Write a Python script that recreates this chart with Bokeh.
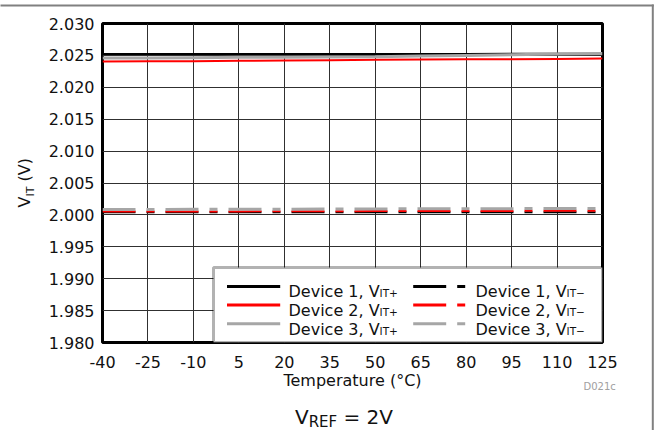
import numpy as np
from bokeh.plotting import figure
from bokeh.models import Range1d, FixedTicker, Label, Arrow, BoxAnnotation
from bokeh.core.properties import value
from bokeh.embed import file_html
from bokeh.resources import INLINE

# ---------------- data ----------------
temperature = [-40, -25, -10, 5, 20, 35, 50, 65, 80, 95, 110, 125]
dev1_vit_plus = [2.0252, 2.0252, 2.0252, 2.0252, 2.0252, 2.0252, 2.0252, 2.0252, 2.02522, 2.02525, 2.02525, 2.02525]
dev2_vit_plus = [2.02405, 2.0241, 2.0241, 2.02415, 2.0242, 2.02425, 2.0243, 2.02435, 2.0244, 2.0244, 2.02445, 2.0245]
dev3_vit_plus = [2.0246, 2.0246, 2.02465, 2.0247, 2.0247, 2.02475, 2.0248, 2.0249, 2.0250, 2.0251, 2.0252, 2.0253]
dev1_vit_minus = [2.0004, 2.0004, 2.0004, 2.0004, 2.0004, 2.0004, 2.0004, 2.0004, 2.0004, 2.0004, 2.0004, 2.0004]
dev2_vit_minus = [2.00053, 2.00053, 2.00055, 2.00055, 2.00057, 2.00058, 2.0006, 2.0006, 2.00062, 2.00063, 2.00064, 2.00064]
dev3_vit_minus = [2.00085, 2.00085, 2.00087, 2.00088, 2.0009, 2.00092, 2.00094, 2.00095, 2.00097, 2.00098, 2.001, 2.001]

x_ticks = [-40, -25, -10, 5, 20, 35, 50, 65, 80, 95, 110, 125]
x_tick_labels = ["-40", "-25", "-10", "5", "20", "35", "50", "65", "80", "95", "110", "125"]
y_ticks = [1.980, 1.985, 1.990, 1.995, 2.000, 2.005, 2.010, 2.015, 2.020, 2.025, 2.030]
y_tick_labels = ["1.980", "1.985", "1.990", "1.995", "2.000", "2.005", "2.010", "2.015", "2.020", "2.025", "2.030"]

legend_rows = ["Device 1, V", "Device 2, V", "Device 3, V"]
colors = ["#000000", "#ff0000", "#a6a6a6"]

FONT = "DejaVu Sans"
DASH = "33 11 8 11"
X0, X1, Y0, Y1 = -40, 125, 1.98, 2.03
FW, FH = 500, 319

p = figure(width=656, height=430, output_backend="svg", toolbar_location=None,
           x_range=Range1d(X0, X1), y_range=Range1d(Y0, Y1),
           min_border_left=102, min_border_right=54, min_border_top=23, min_border_bottom=88)
p.background_fill_color = "white"
p.border_fill_color = "white"
p.outline_line_color = "black"
p.outline_line_width = 3

p.xaxis.ticker = FixedTicker(ticks=x_ticks)
p.yaxis.ticker = FixedTicker(ticks=y_ticks)
p.xaxis.major_label_overrides = {t: l for t, l in zip(x_ticks, x_tick_labels)}
p.yaxis.major_label_overrides = {t: l for t, l in zip(y_ticks, y_tick_labels)}
for ax in (p.xaxis, p.yaxis):
    ax.axis_line_color = None
    ax.major_tick_line_color = None
    ax.minor_tick_line_color = None
    ax.major_tick_out = 0
    ax.major_tick_in = 0
    ax.major_label_text_font = FONT
    ax.major_label_text_font_size = "16px"
    ax.major_label_text_color = "#111111"
p.xaxis.major_label_standoff = 13
p.yaxis.major_label_standoff = 8
p.xaxis.axis_label = "Temperature (°C)"
p.xaxis.axis_label_text_font = FONT
p.xaxis.axis_label_text_font_size = "16px"
p.xaxis.axis_label_text_font_style = "normal"
p.xaxis.axis_label_text_color = "#111111"
p.xaxis.axis_label_standoff = 0

p.grid.grid_line_color = "#303030"
p.grid.grid_line_width = 1

# ---------------- data lines ----------------
plus = [dev1_vit_plus, dev2_vit_plus, dev3_vit_plus]
minus = [dev1_vit_minus, dev2_vit_minus, dev3_vit_minus]
widths = [2, 2, 3]
for ys, c, w in zip(minus, colors, widths):
    p.line(temperature, ys, line_color=c, line_width=w, line_dash=DASH)
for ys, c, w in zip(plus, colors, widths):
    p.line(temperature, ys, line_color=c, line_width=w)

# ---------------- legend (screen units, relative to frame) ----------------
p.add_layout(BoxAnnotation(left=111, right=500, bottom=0, top=75,
                           left_units="screen", right_units="screen",
                           bottom_units="screen", top_units="screen",
                           fill_color="white", fill_alpha=1.0,
                           line_color="black", line_width=3))
row_line_y = [56, 37.5, 18.7]
row_text_y = [50.7, 32.2, 13.4]
col_line_x = [(124.5, 177.7), (310.7, 364.7)]
col_text_x = [186, 373]
subs = ["IT+", "IT\u2212"]
main_w = 91.1
for i in range(3):
    for j in range(2):
        x0, x1 = col_line_x[j]
        p.add_layout(Arrow(x_start=x0, y_start=row_line_y[i], x_end=x1, y_end=row_line_y[i],
                           start_units="screen", end_units="screen", end=None, start=None,
                           line_color=colors[i], line_width=3,
                           line_dash="solid" if j == 0 else DASH))
        p.add_layout(Label(x=col_text_x[j], y=row_text_y[i], x_units="screen", y_units="screen",
                           text=legend_rows[i], text_font=FONT, text_font_size="16px",
                           text_color="#111111", text_baseline="alphabetic", text_align="left"))
        p.add_layout(Label(x=col_text_x[j] + main_w, y=row_text_y[i] - 1.5, x_units="screen", y_units="screen",
                           text=subs[j], text_font=FONT, text_font_size="10.5px",
                           text_color="#111111", text_baseline="alphabetic", text_align="left"))


# ---------------- texts outside the frame (glyphs on overlay level, offsets from frame corner) ----------------
def outside_text(dx, dy_up, text, size_px, angle=0.0, color="#111111"):
    corr = 0.35 * size_px  # baseline correction measured from the previous render
    if angle:
        dx = dx - corr
    else:
        dy_up = dy_up + corr
    r = p.text(x=[X0], y=[Y0], text=[text], x_offset=dx, y_offset=-dy_up, angle=angle,
               text_font=value(FONT), text_font_size=value(f"{size_px}px"), text_color=color,
               text_baseline="alphabetic", text_align="left")
    r.level = "overlay"
    return r


ang = np.pi / 2
outside_text(-72, 135, "V", 16, ang)
outside_text(-68.5, 146, "IT", 11, ang)
outside_text(-72, 161, "(V)", 16, ang)

outside_text(192.5, -81.3, "V", 20)
outside_text(206.2, -85, "REF", 15)
outside_text(241.0, -81.3, "= 2V", 20)
outside_text(481, -47.7, "D021c", 10, color="#a0a0a0")

# ---------------- outer frame (top and right edges) ----------------
sx = (X1 - X0) / FW
sy = (Y1 - Y0) / FH
top_y = Y0 + 337 * sy
right_x = X0 + 550.3 * sx
fr = p.segment(x0=[X0 - 102 * sx, right_x], y0=[top_y, top_y + 1 * sy],
               x1=[right_x + 1 * sx, right_x], y1=[top_y, Y0 - 88 * sy],
               line_color="#808080", line_width=2)
fr.level = "overlay"

open("out.html", "w").write(file_html(p, INLINE))
